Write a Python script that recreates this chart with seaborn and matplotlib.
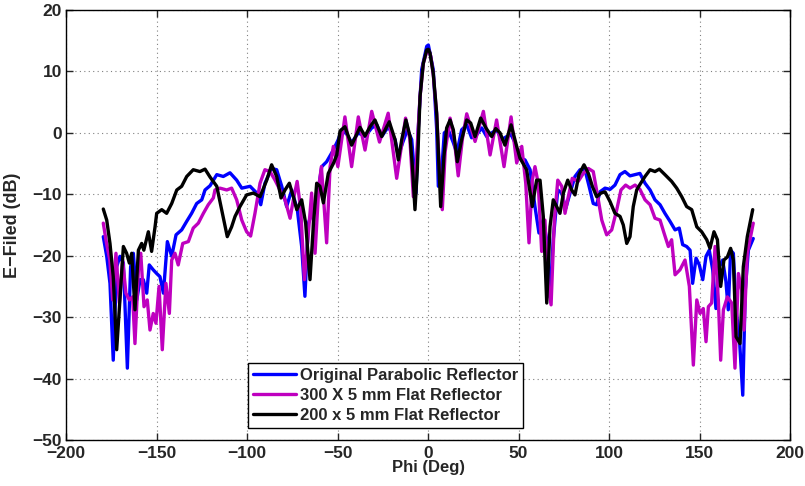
import matplotlib
matplotlib.use("Agg")
import matplotlib.pyplot as plt
import seaborn as sns
import pandas as pd
from matplotlib.lines import Line2D

# ---- data ----
blue_phi = [-179.4,-177.5,-175.7,-173.9,-172.0,-170.2,-168.3,-166.1,-164.3,-162.8,-160.9,-159.1,-157.3,-155.4,-154.0,
            -151.8,-149.9,-148.1,-146.2,-144.0,-141.6,-139.2,-136.1,-133.3,-130.6,-127.8,-125.0,-123.2,-120.4,-116.7,
            -113.1,-109.4,-105.7,-102.9,-98.3,-94.6,-92.4,-90.1,-86.4,-83.6,-80.8,-78.1,-75.3,-72.2,-69.8,-68.0,-66.1,
            -63.4,-61.5,-58.7,-56.0,-52.3,-49.6,-47.7,-44.9,-42.2,-38.5,-34.8,-31.1,-28.3,-25.6,-21.9,-18.2,-16.4,-14.0,
            -11.4,-9.0,-6.6,-5.4,-3.5,-0.7,0.2,2.9,4.8,5.7,7.6,9.0,11.2,14.0,15.9,18.6,21.4,24.1,26.9,29.7,32.4,35.2,
            37.9,40.7,43.5,45.9,48.1,49.9,53.6,56.4,59.1,61.3,63.7,65.6,67.4,69.2,71.7,73.9,76.1,78.5,81.2,84.0,86.7,
            89.0,91.3,93.2,95.0,97.8,100.6,103.3,106.1,108.8,111.6,114.4,117.1,119.9,122.7,125.4,128.2,130.9,133.7,
            136.5,138.8,140.7,142.9,144.8,146.2,148.1,149.9,151.8,153.6,155.4,157.3,159.1,160.9,162.8,164.6,165.9,
            167.2,168.7,170.2,172.0,173.9,175.3,177.0,179.7]
blue_db = [-16.9,-20.1,-24.5,-37.0,-21.8,-20.1,-21.2,-38.3,-21.8,-19.6,-27.2,-23.9,-23.9,-26.1,-21.5,
           -22.3,-22.9,-23.4,-26.1,-17.7,-20.1,-16.6,-15.8,-14.4,-13.1,-11.5,-10.9,-9.3,-8.6,-6.8,
           -7.1,-6.5,-7.7,-9.0,-8.7,-9.8,-11.7,-8.2,-5.8,-6.0,-8.7,-12.0,-9.3,-12.5,-18.5,-26.6,-14.7,
           -12.5,-10.9,-5.5,-4.7,-2.8,-1.1,0.5,-0.2,-1.6,0.0,-0.6,0.8,1.3,-0.6,1.0,-1.1,-3.8,-1.6,
           0.5,-1.1,-9.8,0.5,10.3,14.1,14.3,10.3,0.5,-8.7,-6.0,0.0,0.5,-1.6,-3.3,0.5,1.3,-0.8,-0.3,0.8,-0.6,0.0,
           0.5,-1.1,-0.6,-0.3,-1.6,-4.0,-4.4,-6.0,-12.0,-16.3,-14.2,-17.4,-26.7,-17.4,-9.3,-9.8,-12.3,-9.8,-7.1,-6.0,-6.0,
           -8.7,-11.5,-11.7,-9.6,-9.0,-9.2,-8.5,-6.8,-6.3,-7.0,-6.8,-6.6,-8.2,-9.3,-10.9,-11.7,-13.1,-14.4,
           -15.8,-15.5,-18.2,-18.5,-19.1,-24.5,-20.4,-21.5,-23.9,-20.1,-19.1,-22.3,-28.6,-21.8,-20.7,-24.2,-28.8,
           -19.1,-19.6,-28.8,-33.2,-42.7,-25.6,-19.1,-17.2]

mag_phi = [-179.4,-177.6,-175.8,-174.2,-172.4,-170.5,-168.7,-166.9,-165.0,-163.2,-161.9,-160.0,-158.7,-156.9,-155.1,
           -153.6,-151.8,-150.3,-148.6,-146.8,-144.8,-142.9,-141.6,-139.8,-138.0,-135.5,-132.4,-129.7,-126.9,-124.1,
           -121.4,-118.6,-117.7,-114.9,-111.2,-108.5,-105.7,-102.9,-100.2,-98.0,-95.6,-92.8,-90.1,-87.3,-84.5,-81.8,
           -79.0,-76.2,-74.4,-72.3,-70.3,-68.3,-66.7,-64.3,-62.4,-60.3,-58.9,-56.0,-54.1,-52.3,-49.8,-45.9,-42.2,-38.5,
           -34.8,-31.1,-26.8,-22.0,-17.3,-12.4,-10.0,-8.1,-6.5,-4.4,-2.6,-0.5,0.5,1.5,2.9,4.8,6.0,7.9,9.5,12.2,14.5,
           16.7,19.0,21.4,26.0,30.6,34.3,37.9,42.0,45.9,49.0,51.8,54.0,55.8,57.6,59.1,60.9,62.8,64.6,66.5,68.0,69.8,
           71.7,73.9,75.7,77.5,79.7,83.0,85.8,88.6,91.3,93.8,96.0,98.7,101.5,104.3,106.6,109.2,111.6,114.4,117.1,
           119.9,122.7,125.4,128.2,130.4,132.8,134.6,136.5,139.2,142.0,144.4,146.6,148.5,150.3,152.1,153.6,154.9,
           156.7,158.6,160.4,161.7,163.2,165.4,167.8,169.6,171.5,173.3,174.6,176.4,179.7]
mag_db = [-14.7,-18.0,-20.7,-27.2,-19.6,-27.7,-20.7,-26.1,-27.2,-26.7,-34.3,-22.3,-19.6,-28.3,-27.2,
          -32.1,-29.4,-31.0,-25.0,-35.3,-24.5,-29.4,-20.7,-19.6,-21.5,-18.0,-17.7,-15.5,-14.7,-13.1,
          -11.7,-10.6,-9.3,-9.0,-9.3,-9.0,-10.9,-14.2,-16.1,-16.8,-13.1,-8.2,-6.0,-6.3,-7.7,-9.3,
          -10.9,-13.9,-10.9,-7.9,-12.5,-23.9,-18.5,-9.8,-19.6,-8.7,-5.5,-17.9,-5.5,-2.2,-5.5,2.6,-5.5,2.6,
          -2.8,3.5,-1.5,3.2,-7.4,2.4,-1.0,-10.4,-5.0,5.9,11.3,13.4,13.4,12.5,9.5,3.0,-4.0,-12.5,-3.0,2.4,-1.0,
          -7.0,-1.0,3.1,-1.4,3.5,-3.6,2.1,-5.5,2.6,-4.9,-2.2,-8.2,-17.9,-7.7,-5.5,-8.2,-19.3,-14.2,-25.0,-28.0,-14.2,
          -7.7,-8.7,-13.1,-10.4,-7.4,-7.9,-6.6,-5.8,-6.3,-10.4,-14.2,-16.6,-15.8,-12.5,-9.3,-8.5,-9.0,-8.5,-9.2,
          -10.9,-11.7,-13.9,-14.2,-16.3,-18.5,-17.4,-23.1,-22.3,-20.7,-25.0,-37.8,-27.2,-29.4,-28.6,-34.0,-28.3,
          -27.7,-18.5,-27.2,-37.0,-28.8,-26.7,-27.7,-38.3,-22.9,-25.6,-32.1,-19.6,-14.7]

blk_phi = [-179.4,-177.5,-175.7,-173.9,-172.0,-170.2,-168.3,-166.5,-165.0,-163.7,-161.9,-160.0,-158.2,-157.0,-154.5,
           -152.7,-150.8,-149.9,-147.1,-144.4,-141.6,-138.8,-136.1,-133.3,-129.7,-126.0,-123.2,-120.4,-116.7,-114.0,
           -110.9,-108.5,-106.6,-103.9,-100.2,-96.5,-92.8,-89.1,-86.4,-83.6,-81.2,-79.0,-76.6,-74.4,-72.5,-69.8,-67.6,
           -65.2,-63.4,-61.5,-59.7,-57.8,-55.1,-52.3,-50.4,-48.6,-45.9,-42.2,-37.6,-34.8,-32.0,-29.3,-25.6,-21.4,-18.2,
           -16.4,-14.5,-12.2,-9.9,-8.5,-7.2,-5.9,-4.4,-2.6,-0.7,0.2,1.1,2.9,4.8,5.7,7.0,8.8,10.3,12.2,14.0,16.2,18.6,
           21.4,23.6,26.0,29.1,32.0,35.2,37.4,39.8,42.5,45.9,49.0,50.8,54.5,57.6,60.0,61.9,63.7,65.6,67.4,69.2,71.1,
           72.9,74.8,77.2,79.4,81.2,83.4,86.2,88.6,90.8,93.2,95.6,97.8,100.6,103.3,106.1,107.9,109.8,111.6,113.4,115.3,
           117.1,119.9,122.7,125.4,127.8,130.9,134.6,137.4,140.2,142.9,145.7,148.5,151.2,154.0,155.8,158.0,159.9,
           161.7,163.5,165.4,167.2,168.7,170.2,172.4,174.2,176.4,179.4]
blk_db = [-12.4,-14.2,-18.0,-23.4,-35.3,-27.2,-18.5,-19.6,-21.2,-19.6,-28.8,-19.1,-18.0,-19.1,-16.1,
          -19.3,-15.3,-13.1,-12.5,-13.1,-11.5,-9.3,-8.7,-7.1,-6.0,-6.3,-5.9,-7.2,-8.7,-12.5,
          -16.9,-15.3,-13.6,-12.0,-10.1,-9.8,-10.4,-7.7,-5.2,-7.1,-10.6,-9.3,-8.2,-10.4,-12.5,-10.9,-14.7,
          -23.9,-15.3,-8.2,-8.7,-11.4,-6.6,-5.0,-3.6,0.3,1.0,-2.0,0.9,-0.5,1.0,2.1,-0.6,1.8,-1.1,
          -4.4,-1.1,2.1,-0.6,-6.0,-12.5,-6.0,5.9,11.3,13.5,13.6,13.0,9.7,3.2,-2.9,-12.0,-3.9,0.8,2.1,0.5,-4.7,-1.1,
          2.1,1.6,-0.6,2.4,0.8,-0.6,0.7,0.0,-2.0,1.3,-2.2,-4.1,-6.0,-12.0,-7.7,-7.7,-13.6,-27.7,-15.3,-10.9,-12.0,
          -13.1,-9.8,-7.7,-9.3,-10.1,-6.8,-5.2,-6.6,-8.7,-10.4,-9.8,-9.6,-11.2,-13.1,-13.6,-15.0,-18.0,-16.9,-12.0,-9.3,
          -8.4,-7.1,-6.0,-6.3,-5.9,-6.8,-7.9,-9.0,-10.4,-12.0,-12.5,-15.3,-16.1,-17.4,-18.8,-16.1,-17.4,
          -25.0,-20.7,-20.2,-18.8,-20.7,-33.2,-34.3,-21.8,-16.9,-12.5]

labels = ["Original Parabolic Reflector", "300 X 5 mm Flat Reflector", "200 x 5 mm Flat Reflector"]
colors = ["#0000FF", "#BF00BF", "#000000"]
x_ticks = [-200, -150, -100, -50, 0, 50, 100, 150, 200]
y_ticks = [-50, -40, -30, -20, -10, 0, 10, 20]

df = pd.concat([
    pd.DataFrame({"phi": blue_phi, "db": blue_db, "series": labels[0]}),
    pd.DataFrame({"phi": mag_phi, "db": mag_db, "series": labels[1]}),
    pd.DataFrame({"phi": blk_phi, "db": blk_db, "series": labels[2]}),
], ignore_index=True)

sns.set_style("white")
plt.rcParams["font.family"] = ["Liberation Sans", "DejaVu Sans"]
plt.rcParams["font.weight"] = "bold"

fig = plt.figure(figsize=(8.05, 4.86), dpi=100)
ax = fig.add_axes([66 / 805, 1 - 440 / 486, 724 / 805, 430 / 486])

sns.lineplot(data=df, x="phi", y="db", hue="series", hue_order=labels,
             palette=dict(zip(labels, colors)), sort=False, estimator=None,
             linewidth=2.4, ax=ax, legend=False)

ax.set_xlim(-200, 200)
ax.set_ylim(-50, 20)
ax.set_xticks(x_ticks)
ax.set_yticks(y_ticks)
ax.set_xticklabels([f"{v:d}".replace("-", "\u2212") for v in x_ticks], fontsize=12.5, fontweight="bold")
ax.set_yticklabels([f"{v:d}".replace("-", "\u2212") for v in y_ticks], fontsize=12.5, fontweight="bold")
ax.grid(True, linestyle=(0, (1, 3)), color="#808080", linewidth=0.8)
ax.tick_params(direction="in", length=5, width=1, top=True, right=True,
               bottom=True, left=True)
ax.tick_params(axis="x", pad=4.5)
ax.tick_params(axis="y", pad=3)
for s in ax.spines.values():
    s.set_visible(True)
    s.set_color("black")
    s.set_linewidth(1.0)

ax.set_xlabel("Phi (Deg)", fontsize=12, fontweight="bold", labelpad=-1)
ax.set_ylabel("E\u2212Filed (dB)", fontsize=13, fontweight="bold", labelpad=8)

handles = [Line2D([0], [0], color=c, lw=2.4) for c in colors]
leg = ax.legend(handles, labels, loc="lower left", bbox_to_anchor=(0.251, 0.028),
                prop={"weight": "bold", "size": 12}, frameon=True, fancybox=False,
                edgecolor="black", framealpha=1, handlelength=2.6, handletextpad=0.25,
                borderpad=0.3, labelspacing=0.3, borderaxespad=0)
leg.get_frame().set_linewidth(1.0)

fig.savefig("out.png", dpi=100, facecolor="white")
